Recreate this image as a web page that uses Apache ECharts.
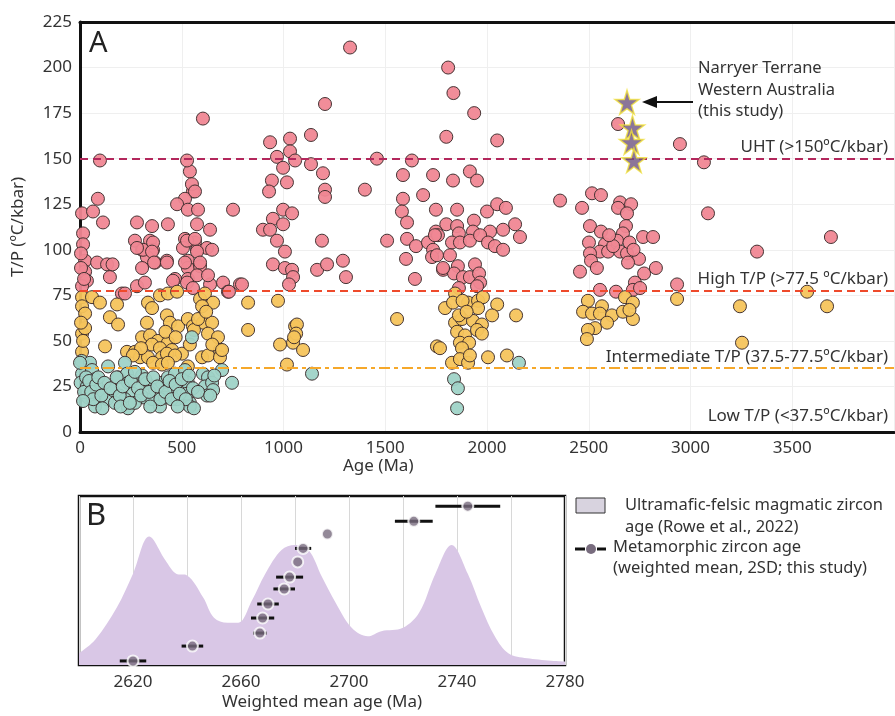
<!DOCTYPE html>
<html>
<head>
<meta charset="utf-8">
<script src="https://cdn.jsdelivr.net/npm/echarts@6/dist/echarts.min.js"></script>
<style>
  html, body { margin: 0; padding: 0; background: #fff; }
  #main { width: 895px; height: 716px; }
</style>
</head>
<body>
<div id="main"></div>
<script>
// Panel A: T/P vs age, [age Ma, T/P degC/kbar]
const highTP = [
  [88,128],[540,143],[555,132],[516,128],[477,125],[530,122],[580,122],[10,120],[64,121],[113,115],
  [280,115],[354,113],[432,114],[575,114],[639,111],[15,109],[15,103],[270,105],[344,105],[305,100],
  [359,100],[329,96],[369,93],[516,106],[565,104],[506,101],[575,100],[624,101],[649,100],[25,94],
  [84,93],[133,92],[427,94],[305,90],[530,94],[530,90],[590,91],[25,88],[34,83],[147,85],
  [467,84],[530,84],[575,86],[639,81],[703,82],[727,77],[280,80],[319,82],[206,76],[10,80],
  [604,172],[98,149],[526,149],[550,136],[565,132],[310,100],[359,104],[354,99],[364,93],[427,93],
  [280,101],[457,83],[526,82],[555,79],[516,93],[575,99],[526,105],[565,106],[590,93],[629,86],
  [786,81],[221,76],[5,98],[5,90],[20,84],[752,122],[732,77],[796,81],[160,92],
  [1327,211],[1204,180],[934,159],[1032,161],[1135,163],[968,151],[1032,154],[1057,149],[1135,147],[998,145],
  [1194,142],[1459,150],[943,138],[929,132],[1017,137],[1204,133],[1204,129],[1400,133],[998,122],[1042,120],
  [948,117],[998,114],[899,111],[934,111],[968,105],[1189,105],[1007,99],[948,92],[1007,90],[1042,89],
  [1047,85],[1027,81],[1165,89],[1214,92],[1292,94],[1307,85],
  [1631,149],[1587,141],[1587,128],[1582,121],[1607,115],[1509,105],[1607,106],[1651,102],[1602,95],[1646,84],
  [1809,200],[1835,186],[1937,175],[1800,162],[2050,160],[1735,141],[1833,138],[1916,143],[1951,138],[1686,130],
  [1749,122],[1853,122],[2000,121],[2050,125],[2093,123],[2138,114],[1800,114],[1749,110],[1853,113],[1936,116],
  [1862,109],[1931,110],[2015,110],[2079,111],[2162,107],[1710,104],[1759,108],[1735,100],[1828,104],[1867,104],
  [1916,105],[1966,108],[2005,104],[2039,102],[2079,100],[1730,96],[1818,97],[1784,89],[1857,91],[1941,92],
  [1838,87],[1882,85],[1916,85],[1961,87],[1966,82],[1862,79],[1951,80],[1744,108],[1754,97],[1784,90],
  [2644,169],[2948,158],[3066,148],[2359,127],[2516,131],[2560,130],[2467,123],[2654,126],[2708,125],[2644,123],
  [2688,120],[3086,120],[2506,113],[2560,110],[2683,113],[2668,109],[2639,105],[2767,107],[2816,107],[2501,104],
  [2580,103],[2555,99],[2506,98],[2595,99],[2654,99],[2688,98],[2747,95],[2693,93],[2511,94],[2457,88],
  [2540,90],[2772,87],[2830,90],[2727,82],[2717,78],[2934,81],[2555,78],[2634,77],[2752,79],[3327,99],
  [3690,107],[2620,102],[2700,104],[2600,108],[2720,100]
];
const intermediateTP = [
  [10,74],[59,74],[98,71],[10,69],[25,65],[182,70],[147,63],[187,59],[334,71],[354,68],
  [393,75],[432,76],[477,77],[590,73],[614,76],[654,71],[600,69],[427,64],[442,60],[482,58],
  [329,60],[530,62],[555,58],[604,60],[649,60],[629,54],[678,52],[688,45],[10,54],[25,57],
  [123,47],[305,52],[344,53],[383,50],[432,49],[354,48],[393,46],[452,45],[501,43],[231,44],
  [270,44],[295,41],[334,41],[403,41],[427,43],[467,42],[10,44],[359,38],[403,37],[432,38],
  [530,36],[600,41],[629,42],[688,41],[5,60],[15,50],[420,55],[470,52],[540,48],[560,56],
  [580,62],[620,66],[650,48],[300,46],[260,42],
  [826,71],[973,72],[826,56],[1057,58],[1066,59],[983,48],[1047,49],[1096,45],[698,45],[1017,37],
  [1558,62],[1062,54],[1052,52],
  [1843,76],[1794,68],[1833,71],[1907,71],[1956,72],[1980,74],[2050,70],[2143,64],[1956,68],[2025,64],
  [1843,60],[1877,62],[1931,61],[1975,59],[1951,56],[1853,55],[1892,53],[1975,54],[1867,49],[1912,49],
  [1877,46],[1754,47],[1828,38],[1867,40],[1907,38],[1916,42],[2005,41],[2098,42],[1769,46],[1862,64],
  [1880,72],[1900,66],
  [2496,72],[2565,69],[2678,74],[2717,71],[2934,73],[2472,66],[2516,65],[2555,65],[2614,64],[2668,66],
  [2717,62],[2531,57],[2496,56],[2491,51],[3573,77],[3243,69],[3671,69],[3253,49],[2700,67],[2590,60]
];
const lowTP = [
  [8,39],[49,38],[138,36],[221,38],[10,32],[59,34],[3,27],[34,25],[74,29],[98,23],
  [39,19],[74,14],[133,18],[162,23],[187,30],[231,32],[236,27],[260,21],[221,18],[236,13],
  [305,31],[329,27],[310,19],[354,18],[369,23],[403,27],[432,30],[457,25],[477,18],[506,23],
  [530,27],[540,16],[393,14],[270,16],[172,16],[418,19],[467,32],[516,34],[550,52],[604,32],
  [629,30],[614,25],[649,27],[654,23],[624,20],[698,34],[747,27],[1140,32],[526,21],[540,14],
  [0,38],[20,22],[30,30],[45,28],[55,22],[65,18],[80,26],[90,30],[105,20],[120,27],
  [150,24],[180,30],[195,20],[210,25],[250,28],[270,33],[285,24],[300,20],[320,29],[340,22],
  [360,30],[380,25],[395,18],[420,22],[440,28],[450,18],[470,26],[490,21],[500,29],[520,18],
  [535,31],[555,24],[580,22],[640,20],[660,31],[15,17],[110,13],[200,14],[245,16],[345,14],
  [480,14],[560,13],
  [2157,38],[1838,29],[1857,24],[1853,13]
];
// Narryer Terrane (this study)
const narryerTP = [[2688,181],[2715,167],[2710,159],[2722,149]];

// threshold lines
const thresholdValues = [150, 77.5, 35];
const thresholdLabels = ['UHT (>150ºC/kbar)', 'High T/P (>77.5 ºC/kbar)', 'Intermediate T/P (37.5-77.5ºC/kbar)'];
const thresholdColors = ['#b3275c', '#ee4a2b', '#f6a82a'];
const thresholdDash = [[8, 5], [8, 5], [11, 4, 4, 4]];

// Panel B: magmatic zircon KDE (Rowe et al.)
const kdeAge = [2600,2606,2614,2620,2626,2632,2636,2640,2646,2650,2655,2659,2664,2669,2675,2680,
  2685,2690,2695,2701,2707,2712,2720,2726,2732,2738,2744,2749,2754,2759,2766,2780];
const kdeDensity = [7,15,34,54,76,62,54,53,40,28,25,25,38,54,68,71,
  68,52,37,22,17,20,22,31,54,71,54,34,17,7,4,2];

// metamorphic zircon weighted means (2SD), plotted by rank
const metaAge = [2620,2642,2667,2668,2670,2676,2678,2681,2683,2692,2724,2744];
const metaErr = [4.9,4,2.5,4.3,4,4,5,0,3,0,7,12];
const metaRank = [2.4,11.2,18.9,27.8,36.1,45,52,61,69,77.5,85,94];

const FONT = 'Noto Sans';
const TXT = '#333';

var myChart = echarts.init(document.getElementById('main'));

let dotStyle = (fill) => ({ color: fill, borderColor: '#3b2b2b', borderWidth: 1, opacity: 0.95 });

let markLines = thresholdValues.map((v, i) => ({
  yAxis: v,
  lineStyle: { color: thresholdColors[i], type: thresholdDash[i], width: 2.2 },
  label: {
    show: true, position: 'insideEndTop', formatter: thresholdLabels[i],
    fontFamily: FONT, fontSize: 17, color: TXT, distance: [6, 3]
  }
}));

let option = {
  animation: false,
  grid: [
    { left: 80, top: 22, width: 814, height: 410 },
    { left: 79, top: 496, width: 486, height: 169, show: true, borderColor: '#111', borderWidth: 2.5 }
  ],
  xAxis: [
    {
      gridIndex: 0, type: 'value', min: 0, max: 4000, interval: 500,
      axisLine: { lineStyle: { color: '#111', width: 3 } },
      axisTick: { show: false },
      axisLabel: { fontFamily: FONT, fontSize: 17, color: TXT, margin: 8, showMaxLabel: false, formatter: (v) => String(v) },
      splitLine: { lineStyle: { color: '#efefef' } }
    },
    {
      // top border of panel A
      gridIndex: 0, type: 'value', position: 'top', min: 0, max: 4000,
      axisLine: { lineStyle: { color: '#111', width: 3 } },
      axisTick: { show: false }, axisLabel: { show: false }, splitLine: { show: false }
    },
    {
      gridIndex: 1, type: 'value', min: 2600, max: 2780, interval: 20,
      axisLine: { show: false }, axisTick: { show: false },
      axisLabel: {
        fontFamily: FONT, fontSize: 17, color: TXT, margin: 9,
        formatter: (v) => ((v - 2620) % 40 === 0 ? String(v) : '')
      },
      splitLine: { lineStyle: { color: '#d8d8d8' } },
      name: 'Weighted mean age (Ma)', nameLocation: 'middle', nameGap: 29,
      nameTextStyle: { fontFamily: FONT, fontSize: 17, color: TXT }
    }
  ],
  yAxis: [
    {
      gridIndex: 0, type: 'value', min: 0, max: 225, interval: 25,
      axisLine: { show: true, lineStyle: { color: '#111', width: 3 } },
      axisTick: { show: false },
      axisLabel: { fontFamily: FONT, fontSize: 17, color: TXT, margin: 8 },
      splitLine: { lineStyle: { color: '#efefef' } },
      name: 'T/P (ºC/kbar)', nameLocation: 'middle', nameGap: 53,
      nameTextStyle: { fontFamily: FONT, fontSize: 17, color: TXT }
    },
    {
      gridIndex: 1, type: 'value', min: 0, max: 100, show: false
    }
  ],
  series: [
    {
      name: 'High T/P', type: 'scatter', xAxisIndex: 0, yAxisIndex: 0,
      data: highTP, symbolSize: 13, itemStyle: dotStyle('#f08794'),
      markLine: { silent: true, symbol: 'none', data: markLines }
    },
    {
      name: 'Intermediate T/P', type: 'scatter', xAxisIndex: 0, yAxisIndex: 0,
      data: intermediateTP, symbolSize: 13, itemStyle: dotStyle('#f6c45c')
    },
    {
      name: 'Low T/P', type: 'scatter', xAxisIndex: 0, yAxisIndex: 0,
      data: lowTP, symbolSize: 13, itemStyle: dotStyle('#9fd3c7')
    },
    {
      name: 'Narryer Terrane', type: 'scatter', xAxisIndex: 0, yAxisIndex: 0,
      data: narryerTP, symbolSize: 24, z: 5,
      symbol: 'path://M50,0 L61,35 L98,35 L68,57 L79,91 L50,70 L21,91 L32,57 L2,35 L39,35 Z',
      itemStyle: { color: '#6e5380', borderColor: '#f2e23c', borderWidth: 1.5 }
    },
    {
      name: 'Magmatic zircon', type: 'line', xAxisIndex: 2, yAxisIndex: 1,
      data: kdeAge.map((a, i) => [a, kdeDensity[i]]),
      smooth: 0.35, showSymbol: false, lineStyle: { width: 0 },
      areaStyle: { color: '#d9c7e6', opacity: 1 }, z: 1
    },
    {
      name: 'Metamorphic 2SD', type: 'custom', xAxisIndex: 2, yAxisIndex: 1,
      data: metaAge.map((a, i) => [a, metaErr[i], metaRank[i]]),
      encode: { x: 0, y: 2 }, z: 3,
      renderItem: (params, api) => {
        const a = api.value(0), e = api.value(1), r = api.value(2);
        const p1 = api.coord([a - e, r]);
        const p2 = api.coord([a + e, r]);
        return {
          type: 'line',
          shape: { x1: p1[0], y1: p1[1], x2: p2[0], y2: p2[1] },
          style: { stroke: '#111', lineWidth: 3 }
        };
      }
    },
    {
      name: 'Metamorphic', type: 'scatter', xAxisIndex: 2, yAxisIndex: 1,
      data: metaAge.map((a, i) => [a, metaRank[i]]),
      symbolSize: 11, z: 4,
      itemStyle: { color: '#786c7e', borderColor: '#fff', borderWidth: 2 }
    }
  ],
  graphic: [
    { type: 'text', z: 50, left: 89, top: 29, style: { text: 'A', font: '29px "Noto Sans"', fill: '#222' } },
    { type: 'text', z: 50, left: 86, top: 501, style: { text: 'B', font: '31px "Noto Sans"', fill: '#222' } },
    { type: 'text', z: 50, left: 343, top: 458, style: { text: 'Age (Ma)', font: '17px "Noto Sans"', fill: TXT } },
    { type: 'text', z: 50, right: 7, top: 408, style: { text: 'Low T/P (<37.5ºC/kbar)', font: '17px "Noto Sans"', fill: TXT } },
    // Narryer annotation
    { type: 'text', z: 50, left: 698, top: 58, style: { text: 'Narryer Terrane\nWestern Australia\n(this study)', font: '16.5px "Noto Sans"', fill: TXT, lineHeight: 21.5 } },
    { type: 'line', z: 50, shape: { x1: 693, y1: 102, x2: 654, y2: 102 }, style: { stroke: '#111', lineWidth: 2 } },
    { type: 'polygon', z: 50, shape: { points: [[642, 102], [657, 96], [657, 108]] }, style: { fill: '#111' } },
    // panel B legend
    { type: 'rect', z: 50, shape: { x: 576, y: 498, width: 29, height: 15 }, style: { fill: '#d8d3df', stroke: '#333', lineWidth: 1 } },
    { type: 'text', z: 50, left: 625, top: 494, style: { text: 'Ultramafic-felsic magmatic zircon\nage (Rowe et al., 2022)', font: '16.5px "Noto Sans"', fill: TXT, lineHeight: 22 } },
    { type: 'line', z: 50, shape: { x1: 575, y1: 549, x2: 585, y2: 549 }, style: { stroke: '#111', lineWidth: 3 } },
    { type: 'line', z: 50, shape: { x1: 597, y1: 549, x2: 606, y2: 549 }, style: { stroke: '#111', lineWidth: 3 } },
    { type: 'circle', z: 50, shape: { cx: 591, cy: 549, r: 5 }, style: { fill: '#786c7e' } },
    { type: 'text', z: 50, left: 613, top: 537, style: { text: 'Metamorphic zircon age\n(weighted mean, 2SD; this study)', font: '16.5px "Noto Sans"', fill: TXT, lineHeight: 21 } }
  ]
};

myChart.setOption(option);
</script>
</body>
</html>
